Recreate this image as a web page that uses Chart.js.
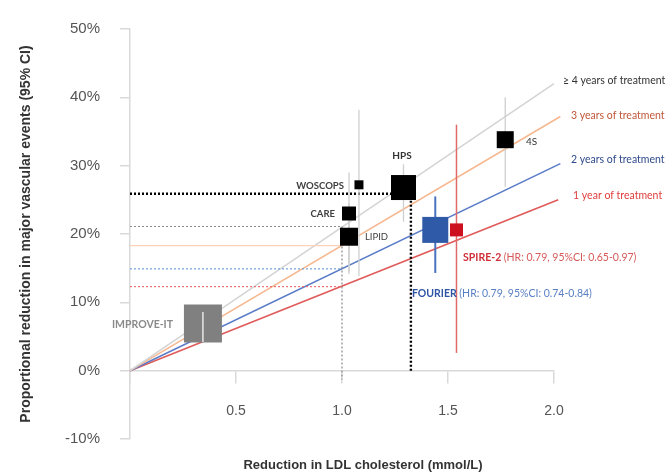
<!DOCTYPE html>
<html>
<head>
<meta charset="utf-8">
<script src="https://cdn.jsdelivr.net/npm/chart.js@4.4.1/dist/chart.umd.min.js"></script>
<style>
  html, body { margin: 0; padding: 0; background: #ffffff; }
  #wrap { width: 669px; height: 475px; position: relative; }
</style>
</head>
<body>
<div id="wrap"><canvas id="c" width="669" height="475"></canvas></div>
<script>
// ---------- data ----------
const studies       = ['IMPROVE-IT', 'CARE', 'LIPID', 'WOSCOPS', 'HPS', '4S', 'FOURIER', 'SPIRE-2'];
const ldlReduction  = [0.344, 1.033, 1.033, 1.08, 1.29, 1.77, 1.44, 1.54];
const riskReduction = [6.9, 23.0, 19.6, 27.2, 26.8, 33.8, 20.6, 20.6];
const ciLow         = [4.2, 14.1, 14.5, 13.8, 21.8, 26.9, 14.3, 2.6];
const ciHigh        = [8.6, 29.0, 24.5, 38.2, 30.2, 40.0, 25.5, 36.0];

const treatmentLabels = ['≥ 4 years of treatment', '3 years of treatment', '2 years of treatment', '1 year of treatment'];
const treatmentEndX   = [2.0, 2.03, 2.03, 2.02];
const treatmentEndY   = [42.0, 37.2, 30.3, 25.0];
const valueAtOneMmol  = [21.1, 18.3, 14.9, 12.3];

const hpsProjectionX = 1.325;
const hpsProjectionY = 25.9;

const xTickValues = [0.5, 1.0, 1.5, 2.0];
const yTickValues = [-10, 0, 10, 20, 30, 40, 50];

const fourierText = '(HR: 0.79, 95%CI: 0.74-0.84)';
const spireText   = '(HR: 0.79, 95%CI: 0.65-0.97)';

// ---------- styles ----------
const squareSide  = [38, 14, 18, 9, 25, 17, 26, 13];
const squareColor = ['#808080', '#000000', '#000000', '#000000', '#000000', '#000000', '#2f5aa8', '#cc1020'];
const ciColor     = ['#ffffff', '#cfcfcf', '#cfcfcf', '#cfcfcf', '#cfcfcf', '#cfcfcf', '#4a72bd', '#e06a6a'];
const ciWidth     = [1.2, 1.3, 1.3, 1.3, 1.3, 1.3, 2, 1.5];
const lineColor   = ['#d4d4d4', '#f6b890', '#5a7cc8', '#e05a5a'];
const refColor    = ['#8a8a8a', '#fad3b8', '#6fa0dc', '#e87575'];
const refDash     = [[2, 2], [], [2, 2], [2, 2]];
const labelColor  = ['#333333', '#c0573a', '#2f4a8a', '#e03c3c'];

// label anchors (data coordinates)
const textItems = [
  { t: 'IMPROVE-IT', x: 0.203, y: 6.8,  align: 'right', color: '#8a8a8a', bold: true,  size: 10.5 },
  { t: 'CARE',       x: 0.967, y: 23.0, align: 'right', color: '#404040', bold: true,  size: 9.5 },
  { t: 'LIPID',      x: 1.108, y: 19.6, align: 'left',  color: '#404040', bold: false, size: 9.5 },
  { t: 'WOSCOPS',    x: 1.009, y: 27.1, align: 'right', color: '#404040', bold: true,  size: 9.5 },
  { t: 'HPS',        x: 1.283, y: 31.4, align: 'center',color: '#333333', bold: true,  size: 10 },
  { t: '4S',         x: 1.868, y: 33.5, align: 'left',  color: '#333333', bold: false, size: 10 }
];
const treatmentLabelX = [2.042, 2.08, 2.08, 2.09];
const treatmentLabelY = [42.5, 37.3, 30.9, 25.6];

// ---------- datasets ----------
const datasets = [];

treatmentLabels.forEach((lab, i) => {
  datasets.push({
    type: 'line', label: lab,
    data: [{ x: 0, y: 0 }, { x: treatmentEndX[i], y: treatmentEndY[i] }],
    borderColor: lineColor[i], borderWidth: 1.6, pointRadius: 0, clip: false, order: 20
  });
});

valueAtOneMmol.forEach((v, i) => {
  const pts = [{ x: 0, y: v }, { x: 1.0, y: v }];
  if (i === 0) pts.push({ x: 1.0, y: -1.3 });
  datasets.push({
    type: 'line', label: 'ref ' + treatmentLabels[i],
    data: pts, borderColor: refColor[i], borderWidth: 1.2, borderDash: refDash[i],
    pointRadius: 0, clip: false, order: 19
  });
});

datasets.push({
  type: 'line', label: 'HPS projection',
  data: [{ x: 0, y: hpsProjectionY }, { x: hpsProjectionX, y: hpsProjectionY }, { x: hpsProjectionX, y: 0 }],
  borderColor: '#000000', borderWidth: 2.4, borderDash: [2, 2], pointRadius: 0, order: 18
});

studies.forEach((s, i) => {
  datasets.push({
    type: 'line', label: s + ' 95% CI',
    data: [{ x: ldlReduction[i], y: ciLow[i] }, { x: ldlReduction[i], y: ciHigh[i] }],
    borderColor: ciColor[i], borderWidth: ciWidth[i], pointRadius: 0,
    order: i === 0 ? 1 : 15
  });
});

datasets.push({
  type: 'scatter', label: 'Trials',
  data: studies.map((s, i) => ({ x: ldlReduction[i], y: riskReduction[i] })),
  pointStyle: 'rect',
  pointRadius: squareSide.map(s => s / Math.SQRT2),
  pointHoverRadius: squareSide.map(s => s / Math.SQRT2),
  backgroundColor: squareColor,
  borderColor: squareColor,
  borderWidth: 0,
  order: 5
});

// ---------- text plugin ----------
const textPlugin = {
  id: 'texts',
  afterDatasetsDraw(chart) {
    const { ctx, scales: { x, y } } = chart;
    ctx.save();
    ctx.textBaseline = 'middle';
    const font = (b, s) => (b ? 'bold ' : '') + s + 'px Lato, "Open Sans", sans-serif';
    textItems.forEach(it => {
      ctx.font = font(it.bold, it.size);
      ctx.fillStyle = it.color;
      ctx.textAlign = it.align;
      ctx.fillText(it.t, x.getPixelForValue(it.x), y.getPixelForValue(it.y));
    });
    treatmentLabels.forEach((lab, i) => {
      ctx.font = font(false, 10.5);
      ctx.fillStyle = labelColor[i];
      ctx.textAlign = 'left';
      ctx.fillText(lab, x.getPixelForValue(treatmentLabelX[i]), y.getPixelForValue(treatmentLabelY[i]));
    });
    const drawPair = (bold, rest, px, py, c1, c2) => {
      ctx.textAlign = 'left';
      ctx.font = font(true, 10.5);
      ctx.fillStyle = c1;
      ctx.fillText(bold, px, py);
      const w = ctx.measureText(bold + ' ').width;
      ctx.font = font(false, 10.5);
      ctx.fillStyle = c2;
      ctx.fillText(rest, px + w, py);
    };
    drawPair('FOURIER', fourierText, x.getPixelForValue(1.33), y.getPixelForValue(11.3), '#2f55a4', '#5a80c4');
    drawPair('SPIRE-2', spireText, x.getPixelForValue(1.571), y.getPixelForValue(16.5), '#d0303a', '#d65a5a');
    ctx.font = 'bold 13px "Liberation Sans", Arial, sans-serif';
    ctx.fillStyle = '#333333';
    ctx.textAlign = 'center';
    ctx.fillText('Reduction in LDL cholesterol (mmol/L)', 363, 465);
    ctx.restore();
  }
};

new Chart(document.getElementById('c'), {
  data: { datasets },
  plugins: [textPlugin],
  options: {
    responsive: false,
    animation: false,
    events: [],
    layout: { padding: { left: 0, right: 115, top: 29, bottom: 36 } },
    plugins: { legend: { display: false }, tooltip: { enabled: false } },
    scales: {
      x: {
        type: 'linear',
        min: 0, max: 2.0,
        position: { y: 0 },
        border: { color: '#d9d9d9', width: 1.5 },
        grid: { drawOnChartArea: false, drawTicks: true, tickLength: 12, color: '#d9d9d9', lineWidth: 1.5 },
        afterBuildTicks: (s) => { s.ticks = [0].concat(xTickValues).map(v => ({ value: v })); },
        ticks: {
          padding: 20,
          color: '#555555',
          font: { family: '"Liberation Sans", Arial, sans-serif', size: 14 },
          callback: (v) => v === 0 ? '' : v.toFixed(1)
        }
      },
      y: {
        type: 'linear',
        min: -10, max: 50,
        position: 'left',
        afterFit: (s) => { s.width = 130; },
        border: { color: '#d9d9d9', width: 1.5 },
        grid: { drawOnChartArea: false, drawTicks: true, tickLength: 10, color: '#d9d9d9', lineWidth: 1.5 },
        afterBuildTicks: (s) => { s.ticks = yTickValues.map(v => ({ value: v })); },
        ticks: {
          padding: 20,
          color: '#555555',
          font: { family: '"Liberation Sans", Arial, sans-serif', size: 15 },
          callback: (v) => v + '%'
        },
        title: {
          display: true,
          text: 'Proportional reduction in major vascular events (95% CI)',
          color: '#333333',
          font: { family: '"Liberation Sans", Arial, sans-serif', size: 14, weight: 'bold' },
          padding: { top: 18, bottom: 0 }
        }
      }
    }
  }
});
</script>
</body>
</html>
